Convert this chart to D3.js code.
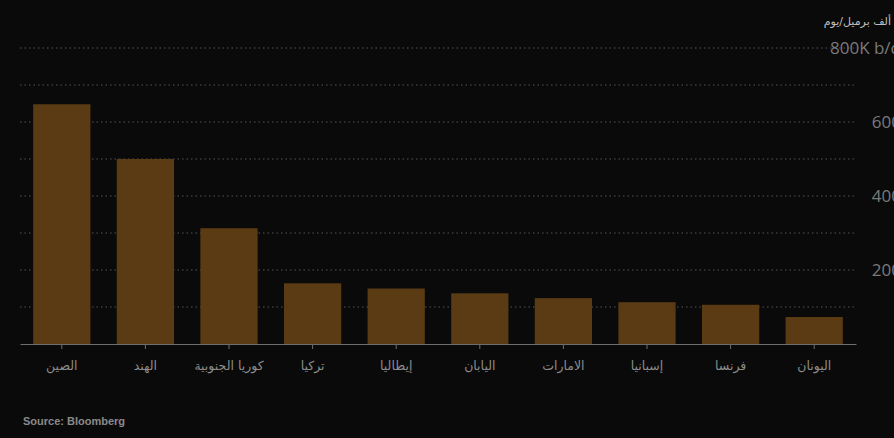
<!DOCTYPE html>
<html><head><meta charset="utf-8">
<script src="https://cdn.jsdelivr.net/npm/d3@7"></script>
<style>
html,body{margin:0;padding:0;background:#0a0a0a;overflow:hidden;}
svg{display:block;}
</style></head>
<body>
<svg id="c" width="894" height="438"></svg>
<script>
const categories = ["الصين","الهند","كوريا الجنوبية","تركيا","إيطاليا","اليابان","الامارات","إسبانيا","فرنسا","اليونان"];
const values = [648, 500, 313, 164, 150, 137, 124, 113, 106, 73];
const gridValues = [100,200,300,400,500,600,700,800];
const tickLabels = [
  {v:200, t:"200"},
  {v:400, t:"400"},
  {v:600, t:"600"},
  {v:800, t:"800K b/d"}
];
const unitTitle = "ألف برميل/يوم";
const source = "Source: Bloomberg";

const svg = d3.select("#c");
svg.append("rect").attr("width",894).attr("height",438).attr("fill","#0a0a0a");

const x = d3.scaleBand().domain(categories).range([20,856]).paddingInner(0.315).paddingOuter(0.1575);
const y = d3.scaleLinear().domain([0,800]).range([344,48]);

// gridlines
svg.append("g").selectAll("line").data(gridValues).join("line")
  .attr("x1",20).attr("x2",856)
  .attr("y1",d=>y(d)).attr("y2",d=>y(d))
  .attr("stroke","#555").attr("stroke-width",1.2)
  .attr("stroke-dasharray","1.5,3");

// bars
svg.append("g").selectAll("rect").data(values).join("rect")
  .attr("x",(d,i)=>x(categories[i]))
  .attr("width",x.bandwidth())
  .attr("y",d=>y(d))
  .attr("height",d=>y(0)-y(d))
  .attr("fill","#5a3b14");

// x axis
const xAxis = d3.axisBottom(x).tickSize(5).tickSizeOuter(0).tickPadding(12);
const gx = svg.append("g").attr("transform","translate(0,344)").call(xAxis);
gx.select(".domain").attr("stroke","#6e6e6e").attr("stroke-width",1.2);
gx.selectAll(".tick line").attr("stroke","#6e6e6e");
gx.selectAll(".tick text").attr("fill","#8c8c8c")
  .style("font-family","'DejaVu Sans','Noto Sans',sans-serif").style("font-size","12.5px");

// y labels (right side)
const yAxis = d3.axisRight(y).tickValues(tickLabels.map(d=>d.v))
  .tickFormat(v=>tickLabels.find(d=>d.v===v).t).tickSize(0).tickPadding(0);
const gy = svg.append("g").attr("transform","translate(901,0)").call(yAxis);
gy.select(".domain").remove();
gy.selectAll(".tick text").attr("text-anchor","end").attr("fill","#7a7a7a")
  .style("font-family","'Open Sans','Noto Sans',sans-serif").style("font-size","17px");

svg.append("text").attr("x",891).attr("y",25).attr("text-anchor","end")
  .attr("fill","#c0c0c0").style("font-family","'DejaVu Sans',sans-serif")
  .style("font-size","11px").text(unitTitle);

svg.append("text").attr("x",23).attr("y",425)
  .attr("fill","#8a8a8a").style("font-family","'Liberation Sans',Arial,sans-serif")
  .style("font-size","11px").style("font-weight","bold").text(source);
</script>
</body></html>
